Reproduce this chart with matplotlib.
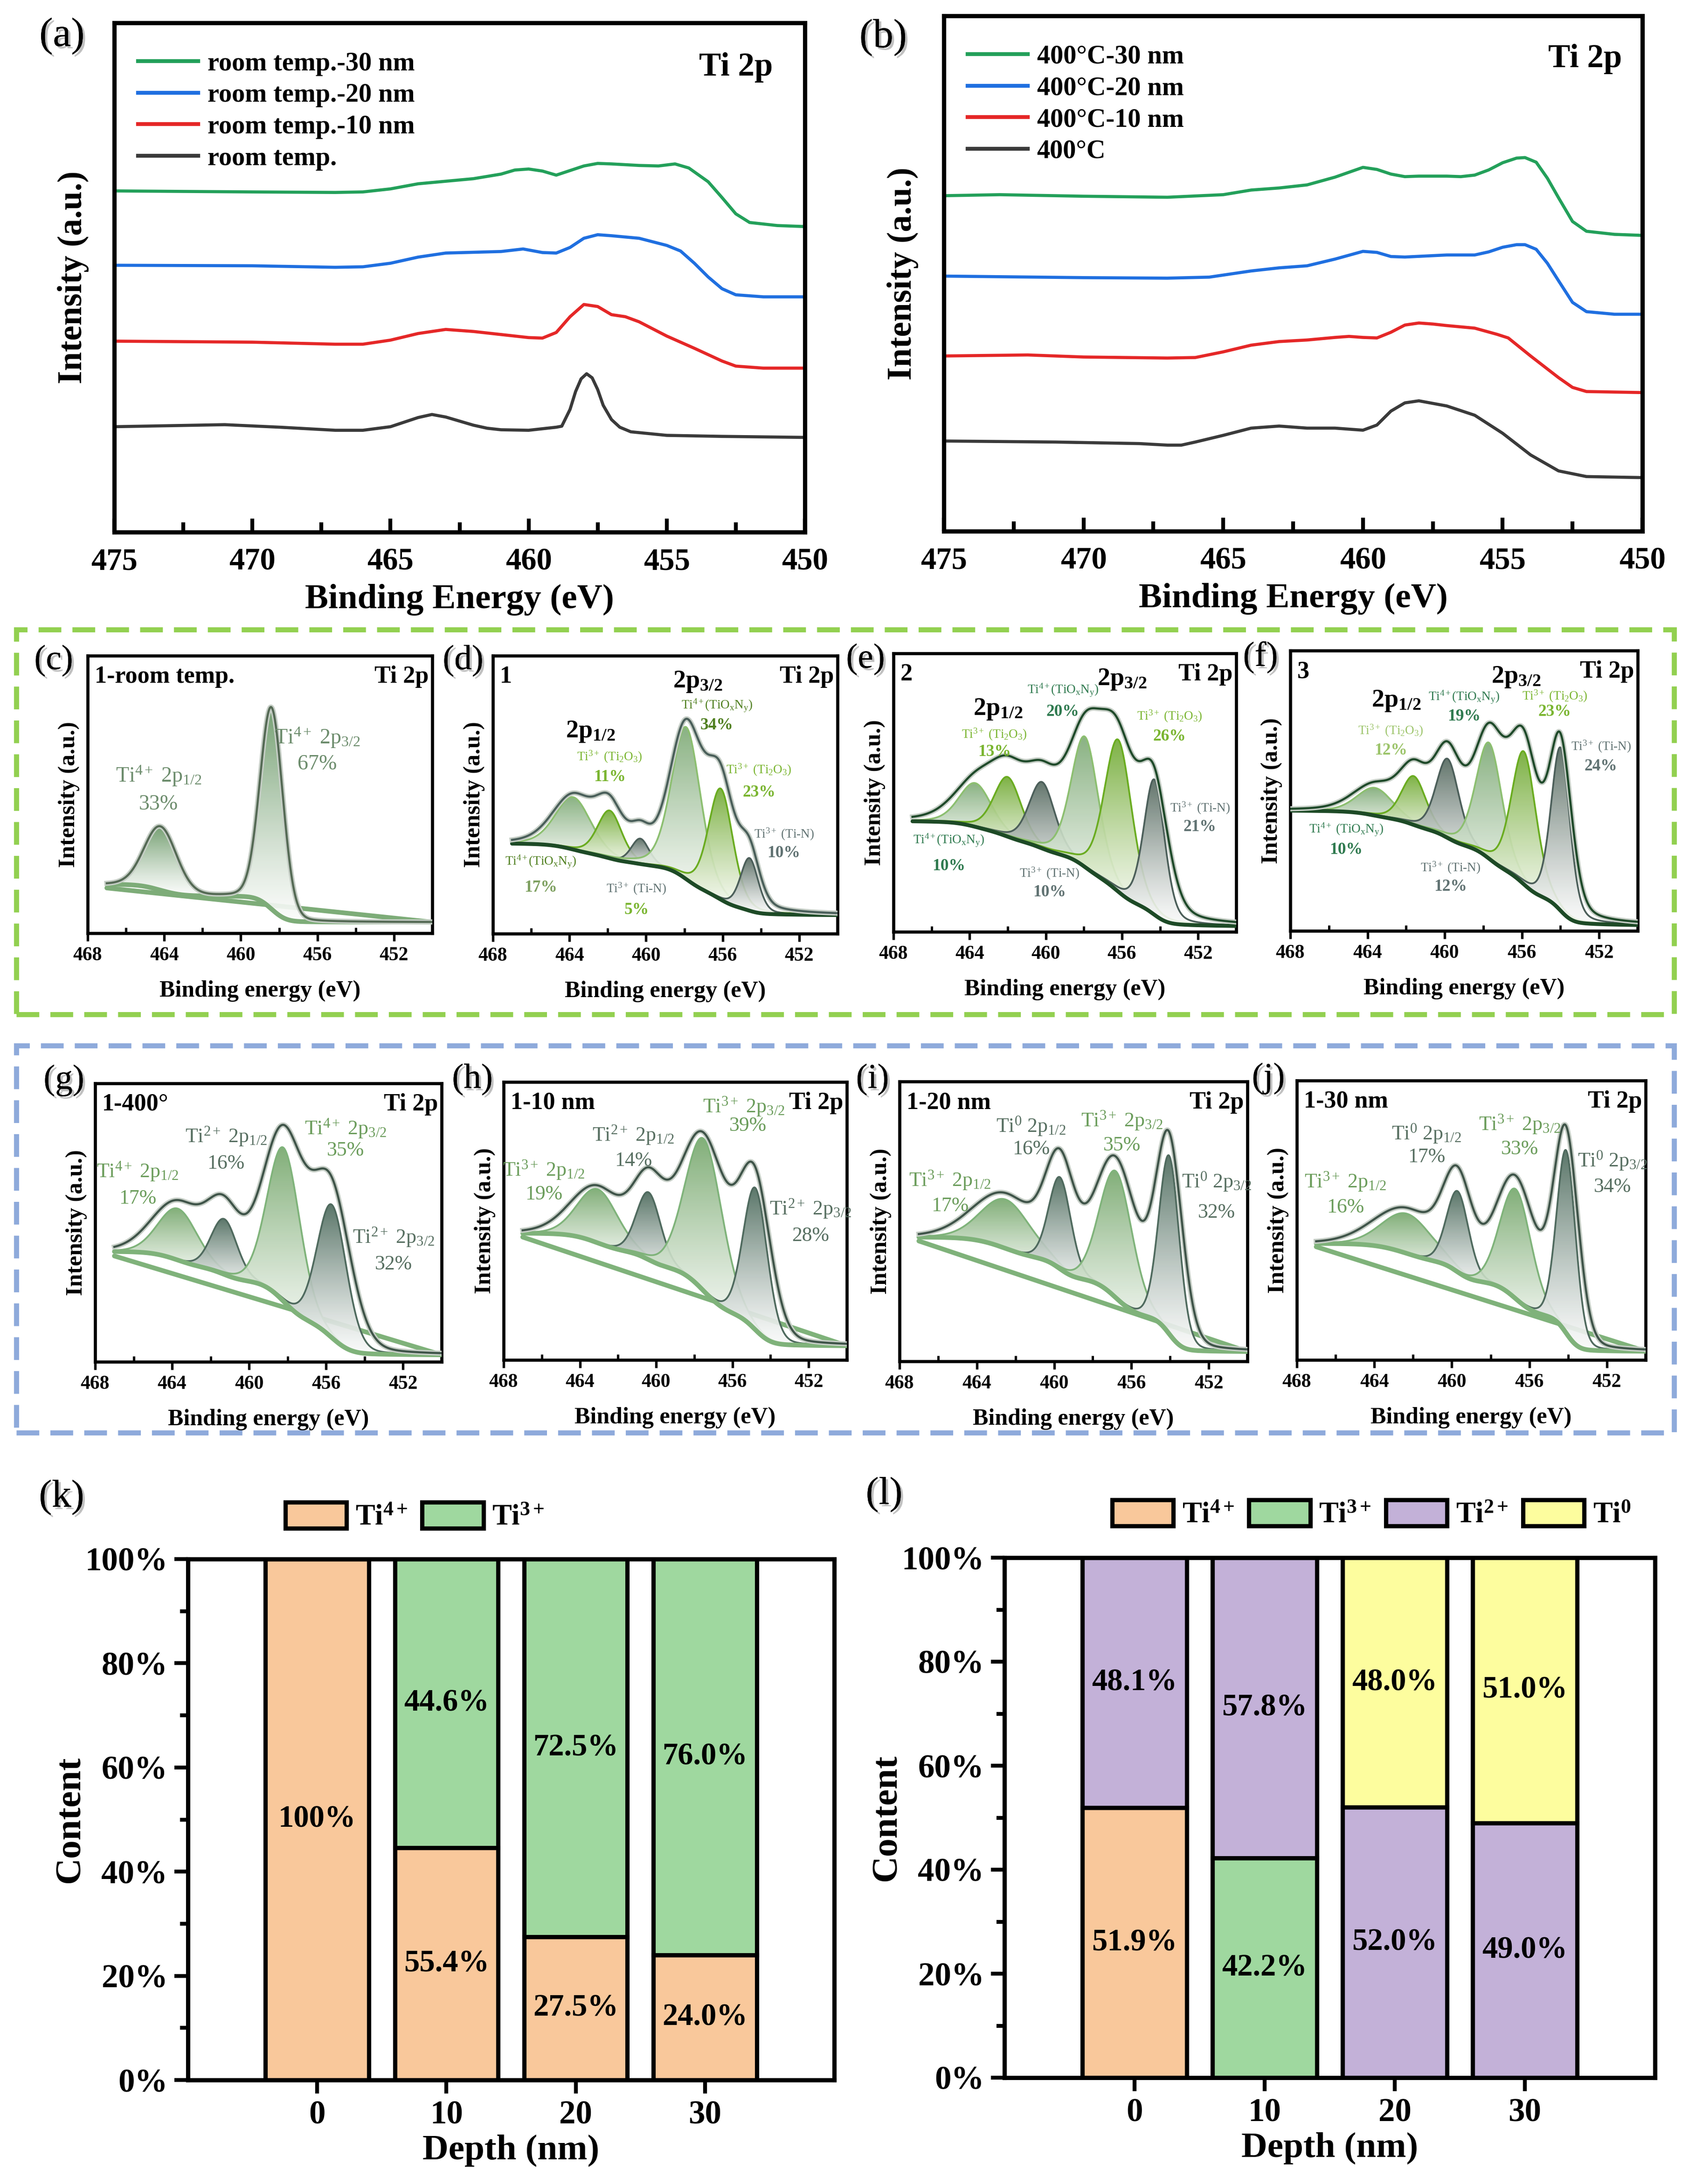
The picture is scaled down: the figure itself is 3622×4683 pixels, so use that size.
import numpy as np
import matplotlib
matplotlib.use("Agg")
import matplotlib.pyplot as plt
import matplotlib.colors as mcolors
import matplotlib.patheffects as pe
from matplotlib.patches import Rectangle, Patch
from matplotlib.ticker import MultipleLocator, FixedLocator

plt.rcParams['font.family'] = ['Liberation Serif', 'DejaVu Serif']
plt.rcParams['mathtext.fontset'] = 'custom'
plt.rcParams['mathtext.rm'] = 'Liberation Serif'
plt.rcParams['mathtext.it'] = 'Liberation Serif:italic'
plt.rcParams['mathtext.bf'] = 'Liberation Serif:bold'
plt.rcParams['mathtext.default'] = 'regular'

W, H = 3622, 4683

# ---------------- data: survey spectra (a) room temp ----------------
A30_E = [475, 470, 467, 466, 465, 464, 463, 462, 461, 460.5, 460, 459.5, 459, 458.5, 458, 457.5, 457, 456, 455.3, 454.7, 454.2, 453.5, 453, 452.5, 452, 451, 450]
A30_I = [67.0, 66.8, 66.7, 66.8, 67.4, 68.4, 68.9, 69.4, 70.3, 71.1, 71.3, 70.9, 70.1, 71.0, 71.9, 72.4, 72.3, 72.0, 71.9, 72.3, 71.5, 68.8, 65.7, 62.5, 60.8, 60.2, 60.0]
A20_E = [475, 470, 467, 466, 465, 464, 463, 461, 460.2, 459.5, 459, 458.5, 458, 457.5, 457, 456, 455, 454.5, 454, 453.5, 453, 452.5, 451.5, 450]
A20_I = [52.4, 52.3, 52.0, 52.1, 52.8, 54.0, 54.8, 55.1, 55.6, 54.9, 54.8, 55.9, 57.7, 58.4, 58.2, 57.7, 56.3, 55.2, 52.8, 50.1, 47.8, 46.6, 46.2, 46.2]
A10_E = [475, 470, 467, 466, 465, 464, 463, 462, 461, 460, 459.5, 459, 458.5, 458, 457.5, 457, 456.5, 456, 455, 454, 453, 452.5, 451.5, 450]
A10_I = [37.5, 37.3, 36.9, 36.9, 37.7, 39.0, 39.8, 39.4, 38.8, 38.2, 38.1, 39.2, 42.3, 44.7, 44.3, 42.7, 42.3, 41.3, 38.5, 36.1, 33.6, 32.6, 32.2, 32.2]
A0_E = [475, 471, 469, 467, 466, 465, 464.5, 464, 463.5, 463, 462.5, 462, 461.5, 461, 460, 459, 458.8, 458.5, 458.3, 458.1, 457.9, 457.7, 457.5, 457.3, 457.0, 456.7, 456.3, 455, 453, 450]
A0_I = [20.7, 21.1, 20.6, 20.0, 20.0, 20.7, 21.6, 22.5, 23.1, 22.6, 21.8, 21.0, 20.4, 20.1, 20.0, 20.6, 20.8, 24.1, 27.6, 30.1, 31.1, 30.3, 28.0, 24.9, 22.1, 20.6, 19.7, 19.0, 18.8, 18.6]
A_LABELS = ['room temp.-30 nm', 'room temp.-20 nm', 'room temp.-10 nm', 'room temp.']

# ---------------- data: survey spectra (b) 400 C ----------------
B30_E = [475, 473, 470, 467, 465, 464, 463, 462, 461, 460, 459.5, 459, 458.5, 458, 457, 456.5, 456, 455.5, 455, 454.5, 454.2, 453.8, 453.4, 453, 452.5, 452, 451, 450]
B30_I = [65.1, 65.3, 65.0, 64.8, 65.3, 66.2, 66.6, 67.2, 68.7, 70.6, 70.2, 69.3, 68.8, 68.9, 68.9, 68.8, 69.1, 70.1, 71.5, 72.4, 72.5, 71.6, 68.5, 64.7, 60.1, 58.2, 57.6, 57.4]
B20_E = [475, 470, 467, 465.5, 465, 464, 463, 462, 461, 460, 459.5, 459, 458.5, 457, 456, 455.5, 455, 454.5, 454.2, 453.8, 453.4, 453, 452.5, 452, 451, 450]
B20_I = [49.5, 49.2, 49.1, 49.3, 49.7, 50.5, 51.1, 51.5, 52.8, 54.3, 54.1, 53.3, 53.2, 53.6, 53.6, 54.2, 55.1, 55.6, 55.6, 54.7, 52.0, 48.6, 44.4, 42.6, 42.1, 42.1]
B10_E = [475, 472, 470, 467, 466, 465, 464, 463, 462, 461, 460.5, 460, 459.5, 459, 458.5, 458, 457.5, 457, 456, 455.2, 454.8, 454, 453, 452.5, 452, 450]
B10_I = [34.0, 34.2, 33.8, 33.6, 33.7, 34.8, 36.1, 36.8, 37.1, 37.6, 37.8, 37.6, 37.5, 38.6, 40.0, 40.4, 40.2, 39.9, 39.4, 38.2, 37.5, 34.0, 29.8, 27.9, 27.1, 26.9]
B0_E = [475, 471, 468, 467, 466.5, 466, 465, 464, 463, 462, 461, 460, 459.5, 459, 458.5, 458, 457.5, 457, 456, 455, 454, 453, 452, 450]
B0_I = [17.5, 17.3, 17.0, 16.7, 16.7, 17.3, 18.6, 20.0, 20.4, 20.0, 20.0, 19.6, 20.6, 23.3, 24.9, 25.3, 24.8, 24.3, 22.5, 19.0, 14.8, 11.7, 10.6, 10.4]
B_LABELS = ['400\u00b0C-30 nm', '400\u00b0C-20 nm', '400\u00b0C-10 nm', '400\u00b0C']

# ---------------- data: peak fits (c)-(j) ----------------
# centre (eV), component top (a.u.), FWHM (eV), component type; envelope maximum
C_CEN = [464.2, 458.4]
C_TOP = [38.2, 80.7]
C_FWHM = [2.0, 1.4]
C_KIND = ['mid', 'mid']
C_BG = (4.0, 17.6, 16.3)   # low end, high end, linear-line high end
C_ENV = 81.5

D_CEN = [463.8, 461.9, 460.3, 457.9, 456.1, 454.6]
D_TOP = [49.1, 44.3, 34.2, 74.3, 52.2, 27.2]
D_FWHM = [2.2, 1.5, 1.1, 1.8, 1.5, 1.1]
D_KIND = ['mid', 'bright', 'slate', 'mid', 'bright', 'slate']
D_BG = (6.7, 32.4)
D_ENV = 77.3

E_CEN = [463.7, 462.0, 460.2, 457.95, 456.2, 454.3]
E_TOP = [53.4, 55.6, 53.8, 70.1, 69.0, 54.7]
E_FWHM = [2.0, 1.7, 1.6, 1.7, 1.7, 1.3]
E_KIND = ['mid', 'bright', 'slate', 'mid', 'bright', 'slate']
E_BG = (2.1, 39.7)
E_ENV = 80.0

F_CEN = [463.6, 461.6, 459.85, 457.7, 455.9, 454.0]
F_TOP = [51.0, 55.2, 61.4, 67.1, 64.0, 65.4]
F_FWHM = [2.2, 1.5, 1.4, 1.6, 1.5, 1.15]
F_KIND = ['mid', 'bright', 'slate', 'mid', 'bright', 'slate']
F_BG = (2.1, 42.9)
F_ENV = 74.3

G_CEN = [463.7, 461.3, 458.2, 455.7]
G_TOP = [55.0, 51.3, 76.8, 56.4]
G_FWHM = [2.4, 1.6, 2.0, 1.8]
G_KIND = ['mid', 'slate', 'mid', 'slate']
G_BG = (2.5, 39.6, 38.0)
G_ENV = 85.1

H_CEN = [463.06, 460.4, 457.5, 454.8]
H_TOP = [61.4, 60.3, 79.5, 61.9]
H_FWHM = [2.5, 1.5, 2.3, 1.5]
H_KIND = ['mid', 'slate', 'mid', 'slate']
H_BG = (5.1, 45.6, 44.2)
H_ENV = 82.3

I_CEN = [462.5, 459.7, 456.8, 454.05]
I_TOP = [57.8, 65.8, 67.9, 73.5]
I_FWHM = [3.0, 1.35, 2.0, 1.25]
I_KIND = ['mid', 'slate', 'mid', 'slate']
I_BG = (3.5, 44.4, 43.0)
I_ENV = 82.7

J_CEN = [462.3, 459.7, 456.7, 454.1]
J_TOP = [52.3, 60.4, 61.1, 75.0]
J_FWHM = [3.0, 1.35, 1.9, 1.15]
J_KIND = ['mid', 'slate', 'mid', 'slate']
J_BG = (3.1, 41.7, 40.5)
J_ENV = 84.3

# ---------------- data: bar charts (k), (l) ----------------
DEPTH = [0, 10, 20, 30]
DEPTH_LABELS = ['0', '10', '20', '30']
# segment heights as drawn, and the printed labels
K_TI4 = [100.0, 44.6, 27.5, 24.0]
K_TI3 = [0.0, 55.4, 72.5, 76.0]
K_TI4_TXT = ['100%', '55.4%', '27.5%', '24.0%']
K_TI3_TXT = ['', '44.6%', '72.5%', '76.0%']
L_TI4 = [51.9, 0.0, 0.0, 0.0]
L_TI3 = [0.0, 42.2, 0.0, 0.0]
L_TI2 = [48.1, 57.8, 52.0, 49.0]
L_TI0 = [0.0, 0.0, 48.0, 51.0]
Y_TICKS = [0, 20, 40, 60, 80, 100]
Y_TICK_LABELS = ['0%', '20%', '40%', '60%', '80%', '100%']

# ---------------- helpers ----------------
fig = plt.figure(figsize=(W / 300, H / 300), dpi=300)


def add_ax(L, R, T, B):
    return fig.add_axes([L / W, 1 - B / H, (R - L) / W, (B - T) / H])


shadow = [pe.withSimplePatchShadow(offset=(1.2, -1.2), shadow_rgbFace='#999999', alpha=0.6), pe.Normal()]


def panel_label(x, y, s, size=20):
    fig.text(x / W, 1 - y / H, s, ha='center', va='center', fontsize=size, path_effects=shadow)


def grad_fill(ax, x, base, top, color, z, alpha=0.92):
    mask = (top - base) > 0.25
    if mask.sum() < 3:
        return
    xs, b, t = x[mask], base[mask], top[mask]
    poly = ax.fill_between(xs, b, t, facecolor='none', edgecolor='none', zorder=z)
    ymin, ymax = b.min(), t.max()
    n = 256
    frac = np.linspace(0, 1, n)[:, None]
    g = 0.03 + 0.97 * frac ** 1.2
    c = np.array(mcolors.to_rgb(color))[None, :]
    rgb = (1 - g) * np.ones((1, 3)) + g * c
    im = ax.imshow(rgb[:, None, :], extent=[xs.min(), xs.max(), ymin, ymax], origin='lower',
                   aspect='auto', zorder=z, alpha=alpha, interpolation='bilinear')
    im.set_clip_path(poly.get_paths()[0], ax.transData)


def survey_axes(ax):
    ax.set_xlim(475, 450)
    ax.set_ylim(0, 100)
    ax.set_yticks([])
    ax.xaxis.set_major_locator(FixedLocator([475, 470, 465, 460, 455, 450]))
    ax.xaxis.set_minor_locator(MultipleLocator(2.5))
    ax.tick_params(axis='x', which='major', direction='in', length=7, width=2, labelsize=16, pad=8)
    ax.tick_params(axis='x', which='minor', direction='in', length=5, width=2)
    for lab in ax.get_xticklabels():
        lab.set_fontweight('bold')
    for s in ax.spines.values():
        s.set_linewidth(2.2)
    ax.set_xlabel('Binding Energy (eV)', fontsize=18, fontweight='bold', labelpad=4)
    ax.set_ylabel('Intensity (a.u.)', fontsize=17.5, fontweight='bold', labelpad=13)
    ax.text(0.9, 0.913, 'Ti 2p', transform=ax.transAxes, ha='center', va='center', fontsize=17, fontweight='bold')


SURVEY_COLORS = ['#23a05a', '#1f6fe0', '#e52727', '#3a3a3a']


def survey(ax, curves, labels):
    for (e, i), lab, col in zip(curves, labels, SURVEY_COLORS):
        ax.plot(e, i, color=col, lw=1.6, label=lab)
    survey_axes(ax)
    leg = ax.legend(loc='upper left', bbox_to_anchor=(0.0, 0.99), frameon=False, handlelength=2.3,
                    handletextpad=0.35, labelspacing=0.28, prop={'weight': 'bold', 'size': 13.5})
    for ln in leg.get_lines():
        ln.set_linewidth(2)


def pvoigt(x, c, h, f, eta):
    u = ((x - c) / f) ** 2
    return h * ((1 - eta) * np.exp(-4 * np.log(2) * u) + eta / (1 + 4 * u))


def fit_panel(ax, cen, top, fw, kinds, lo, hi, env_max, palette, edge, env_col, bg_col, bg_lw,
              lin_hi=None, x0=467.0, eta=0.15, env_broad=1.3):
    x = np.linspace(450, x0, 1500)
    cen = np.asarray(cen, float)
    top = np.asarray(top, float)
    fw = np.asarray(fw, float)
    h = top - (lo + (hi - lo) * (cen - 450) / (x0 - 450))
    for _ in range(10):
        comps = [pvoigt(x, c, hh, f, eta) for c, hh, f in zip(cen, h, fw)]
        tot = np.sum(comps, axis=0)
        cum = np.concatenate([[0], np.cumsum(0.5 * (tot[1:] + tot[:-1]) * np.diff(x))])
        bg = lo + (hi - lo) * cum / cum[-1]
        h = np.maximum(top - np.interp(cen, x, bg), 0.5)
    if lin_hi is not None:
        ax.plot([450, x0], [lo, lin_hi], color=bg_col, lw=bg_lw, zorder=3, solid_capstyle='round')
    for k, (comp, kind) in enumerate(zip(comps, kinds)):
        grad_fill(ax, x, bg, bg + comp, palette[kind], 4 + k * 0.1)
        m = comp > 0.25
        ax.plot(x[m], (bg + comp)[m], color=edge[kind], lw=0.9, zorder=4.05 + k * 0.1)
    ax.plot(x, bg, color=bg_col, lw=bg_lw, zorder=5, solid_capstyle='round')
    env_tot = np.sum([pvoigt(x, c, hh, f * env_broad, eta) for c, hh, f in zip(cen, h, fw)], axis=0)
    i = np.argmax(bg + env_tot)
    s = (env_max - bg[i]) / env_tot[i]
    env = bg + s * env_tot
    ax.plot(x, env, color='#c6cec6', lw=2.6, zorder=6)
    ax.plot(x, env, color=env_col, lw=1.1, zorder=7)
    ax.set_xlim(468, 450)
    ax.set_ylim(0, 100)
    ax.set_yticks([])
    ax.xaxis.set_major_locator(FixedLocator([468, 464, 460, 456, 452]))
    ax.xaxis.set_minor_locator(MultipleLocator(2))
    ax.tick_params(axis='x', which='major', direction='out', length=4, width=1.3, labelsize=10, pad=3)
    ax.tick_params(axis='x', which='minor', direction='in', length=3, width=1.2)
    for lab in ax.get_xticklabels():
        lab.set_fontweight('bold')
    for sp in ax.spines.values():
        sp.set_linewidth(1.6)
    ax.set_xlabel('Binding energy (eV)', fontsize=12, fontweight='bold', labelpad=8)
    ax.set_ylabel('Intensity (a.u.)', fontsize=12, fontweight='bold', labelpad=4)


def corner_text(ax, left, right='Ti 2p'):
    ax.text(0.02, 0.925, left, transform=ax.transAxes, ha='left', va='center', fontsize=12.5, fontweight='bold')
    ax.text(0.99, 0.925, right, transform=ax.transAxes, ha='right', va='center', fontsize=12.5, fontweight='bold')


def notes(ax, items):
    for s, x, y, col, size, wt in items:
        ax.text(x, y, s, ha='center', va='center', color=col, fontsize=size, fontweight=wt, zorder=10)


# ---------------- (a), (b) ----------------
axa = add_ax(245, 1726, 49, 1141)
survey(axa, [(A30_E, A30_I), (A20_E, A20_I), (A10_E, A10_I), (A0_E, A0_I)], A_LABELS)
axb = add_ax(2024, 3522, 34, 1139)
survey(axb, [(B30_E, B30_I), (B20_E, B20_I), (B10_E, B10_I), (B0_E, B0_I)], B_LABELS)
axb.texts[0].set_position((0.918, 0.916))
panel_label(133, 77, '(a)', 21)
panel_label(1894, 80, '(b)', 21)

# ---------------- dashed boxes ----------------
fig.add_artist(Rectangle((35 / W, 1 - 2175 / H), (3590 - 35) / W, (2175 - 1350) / H, transform=fig.transFigure,
                         fill=False, ls=(0, (4.5, 2.2)), lw=2.6, edgecolor='#92d050'))
fig.add_artist(Rectangle((35 / W, 1 - 3072 / H), (3590 - 35) / W, (3072 - 2242) / H, transform=fig.transFigure,
                         fill=False, ls=(0, (4.5, 2.2)), lw=2.6, edgecolor='#8eaadb'))

# palettes
PAL_C = {'mid': '#6c9a69'}
EDGE_C = {'mid': '#86b482'}
PAL_D = {'mid': '#7fab77', 'bright': '#72ab34', 'slate': '#55695f'}
EDGE_D = {'mid': '#8cbf70', 'bright': '#6aac20', 'slate': '#4c5f5a'}
PAL_G = {'mid': '#77a86d', 'slate': '#4c6a5c'}
EDGE_G = {'mid': '#7fb37a', 'slate': '#4f6a5e'}

G_LAB = '#6a9c5a'
S_LAB = '#566e60'
OX = '#4f7f1f'
BR = '#7ab530'
TN = '#607272'

# (c)
axc = add_ax(188, 927, 1406, 2001)
fit_panel(axc, C_CEN, C_TOP, C_FWHM, C_KIND, C_BG[0], C_BG[1], C_ENV, PAL_C, EDGE_C, '#556a55', '#7dac78', 2.4,
          lin_hi=C_BG[2], eta=0.1, env_broad=1.0)
corner_text(axc, '1-room temp.')
notes(axc, [(r'Ti$^{4+}$ 2p$_{1/2}$', 464.3, 56.7, '#6c8c6c', 11, 'normal'), ('33%', 464.3, 46.4, '#6c8c6c', 11, 'normal'),
            (r'Ti$^{4+}$ 2p$_{3/2}$', 456.0, 70.4, '#6c8c6c', 11, 'normal'), ('67%', 456.0, 60.9, '#6c8c6c', 11, 'normal')])
panel_label(115, 1417, '(c)', 18)

# (d)
axd = add_ax(1057, 1796, 1406, 2002)
fit_panel(axd, D_CEN, D_TOP, D_FWHM, D_KIND, D_BG[0], D_BG[1], D_ENV, PAL_D, EDGE_D, '#4a5f5a', '#1d4a26', 2.0,
          eta=0.3, env_broad=1.15)
corner_text(axd, '1')
notes(axd, [(r'2p$_{3/2}$', 457.3, 90.6, 'black', 13, 'bold'), (r'2p$_{1/2}$', 462.9, 72.6, 'black', 13, 'bold'),
            (r'Ti$^{4+}$(TiO$_x$N$_y$)', 456.3, 82.0, OX, 6.5, 'normal'), ('34%', 456.3, 75.0, OX, 8.5, 'bold'),
            (r'Ti$^{3+}$ (Ti$_2$O$_3$)', 461.9, 63.6, BR, 6.5, 'normal'), ('11%', 461.9, 56.3, BR, 8.5, 'bold'),
            (r'Ti$^{3+}$ (Ti$_2$O$_3$)', 454.1, 58.9, BR, 6.5, 'normal'), ('23%', 454.1, 50.8, BR, 8.5, 'bold'),
            (r'Ti$^{3+}$ (Ti-N)', 452.8, 35.8, TN, 6.5, 'normal'), ('10%', 452.8, 28.9, TN, 8.5, 'bold'),
            (r'Ti$^{4+}$(TiO$_x$N$_y$)', 465.5, 25.9, OX, 6.5, 'normal'), ('17%', 465.5, 16.5, '#7ea060', 8.5, 'bold'),
            (r'Ti$^{3+}$ (Ti-N)', 460.5, 16.1, TN, 6.5, 'normal'), ('5%', 460.5, 8.4, BR, 8.5, 'bold')])
panel_label(993, 1417, '(d)', 18)

# (e)
axe = add_ax(1916, 2651, 1401, 1998)
fit_panel(axe, E_CEN, E_TOP, E_FWHM, E_KIND, E_BG[0], E_BG[1], E_ENV, PAL_D, EDGE_D, '#1f4a2a', '#1d4a26', 2.0,
          eta=0.3, env_broad=1.35)
corner_text(axe, '2')
OX2 = '#2f7a4f'
notes(axe, [(r'2p$_{3/2}$', 456.0, 90.6, 'black', 13, 'bold'), (r'2p$_{1/2}$', 462.5, 79.9, 'black', 13, 'bold'),
            (r'Ti$^{4+}$(TiO$_x$N$_y$)', 459.1, 86.8, OX2, 6.5, 'normal'), ('20%', 459.1, 79.0, OX2, 8.5, 'bold'),
            (r'Ti$^{3+}$ (Ti$_2$O$_3$)', 462.7, 70.9, BR, 6.5, 'normal'), ('13%', 462.7, 64.5, BR, 8.5, 'bold'),
            (r'Ti$^{3+}$ (Ti$_2$O$_3$)', 453.5, 77.4, BR, 6.5, 'normal'), ('26%', 453.5, 70.1, BR, 8.5, 'bold'),
            (r'Ti$^{3+}$ (Ti-N)', 451.9, 44.4, TN, 6.5, 'normal'), ('21%', 451.9, 37.6, TN, 8.5, 'bold'),
            (r'Ti$^{4+}$(TiO$_x$N$_y$)', 465.1, 32.9, OX2, 6.5, 'normal'), ('10%', 465.1, 23.5, OX2, 8.5, 'bold'),
            (r'Ti$^{3+}$ (Ti-N)', 459.8, 20.9, TN, 6.5, 'normal'), ('10%', 459.8, 14.1, TN, 8.5, 'bold')])
panel_label(1856, 1414, '(e)', 18)

# (f)
axf = add_ax(2767, 3512, 1395, 1996)
fit_panel(axf, F_CEN, F_TOP, F_FWHM, F_KIND, F_BG[0], F_BG[1], F_ENV, PAL_D, EDGE_D, '#1f4a2a', '#1d4a26', 2.0,
          x0=468.0, eta=0.3, env_broad=1.2)
corner_text(axf, '3')
LB = '#9cc46a'
notes(axf, [(r'2p$_{3/2}$', 456.3, 90.5, 'black', 13, 'bold'), (r'2p$_{1/2}$', 462.5, 82.0, 'black', 13, 'bold'),
            (r'Ti$^{4+}$(TiO$_x$N$_y$)', 459.0, 83.3, OX2, 6.5, 'normal'), ('19%', 459.0, 76.5, OX2, 8.5, 'bold'),
            (r'Ti$^{3+}$ (Ti$_2$O$_3$)', 454.3, 83.7, BR, 6.5, 'normal'), ('23%', 454.3, 78.2, BR, 8.5, 'bold'),
            (r'Ti$^{3+}$ (Ti$_2$O$_3$)', 462.8, 71.4, LB, 6.5, 'normal'), ('12%', 462.8, 64.3, LB, 8.5, 'bold'),
            (r'Ti$^{3+}$ (Ti-N)', 451.9, 65.8, TN, 6.5, 'normal'), ('24%', 451.9, 58.6, TN, 8.5, 'bold'),
            (r'Ti$^{4+}$ (TiO$_x$N$_y$)', 465.1, 36.1, OX2, 6.5, 'normal'), ('10%', 465.1, 28.9, OX2, 8.5, 'bold'),
            (r'Ti$^{3+}$ (Ti-N)', 459.7, 22.5, TN, 6.5, 'normal'), ('12%', 459.7, 15.7, TN, 8.5, 'bold')])
panel_label(2703, 1410, '(f)', 18)

# (g)-(j)
fit_specs = [
    ((204, 947, 2323, 2920), G_CEN, G_TOP, G_FWHM, G_KIND, G_BG, G_ENV, '1-400\u00b0', (137, 2317, '(g)'),
     [(r'Ti$^{4+}$ 2p$_{1/2}$', 465.8, 68.4, G_LAB), ('17%', 465.8, 58.7, G_LAB),
      (r'Ti$^{2+}$ 2p$_{1/2}$', 461.2, 81.0, S_LAB), ('16%', 461.2, 71.2, S_LAB),
      (r'Ti$^{4+}$ 2p$_{3/2}$', 455.0, 83.8, G_LAB), ('35%', 455.0, 75.9, G_LAB),
      (r'Ti$^{2+}$ 2p$_{3/2}$', 452.5, 44.8, S_LAB), ('32%', 452.5, 35.0, S_LAB)]),
    ((1080, 1816, 2320, 2916), H_CEN, H_TOP, H_FWHM, H_KIND, H_BG, H_ENV, '1-10 nm', (1013, 2315, '(h)'),
     [(r'Ti$^{3+}$ 2p$_{3/2}$', 455.4, 91.2, G_LAB), ('39%', 455.2, 84.2, G_LAB),
      (r'Ti$^{2+}$ 2p$_{1/2}$', 461.2, 80.9, S_LAB), ('14%', 461.2, 71.6, S_LAB),
      (r'Ti$^{3+}$ 2p$_{1/2}$', 465.9, 68.4, G_LAB), ('19%', 465.9, 59.5, G_LAB),
      (r'Ti$^{2+}$ 2p$_{3/2}$', 451.9, 54.4, S_LAB), ('28%', 451.9, 44.7, S_LAB)]),
    ((1929, 2675, 2319, 2919), I_CEN, I_TOP, I_FWHM, I_KIND, I_BG, I_ENV, '1-20 nm', (1871, 2315, '(i)'),
     [(r'Ti$^{0}$ 2p$_{1/2}$', 461.2, 84.1, S_LAB), ('16%', 461.2, 75.8, S_LAB),
      (r'Ti$^{3+}$ 2p$_{3/2}$', 456.5, 86.0, G_LAB), ('35%', 456.5, 77.2, G_LAB),
      (r'Ti$^{3+}$ 2p$_{1/2}$', 465.4, 64.7, G_LAB), ('17%', 465.4, 55.5, G_LAB),
      (r'Ti$^{0}$ 2p$_{3/2}$', 451.6, 64.2, S_LAB), ('32%', 451.6, 53.1, S_LAB)]),
    ((2781, 3529, 2317, 2916), J_CEN, J_TOP, J_FWHM, J_KIND, J_BG, J_ENV, '1-30 nm', (2720, 2313, '(j)'),
     [(r'Ti$^{0}$ 2p$_{1/2}$', 461.3, 81.0, S_LAB), ('17%', 461.3, 72.7, S_LAB),
      (r'Ti$^{3+}$ 2p$_{3/2}$', 456.5, 84.3, G_LAB), ('33%', 456.5, 75.5, G_LAB),
      (r'Ti$^{3+}$ 2p$_{1/2}$', 465.5, 63.9, G_LAB), ('16%', 465.5, 54.6, G_LAB),
      (r'Ti$^{0}$ 2p$_{3/2}$', 451.7, 71.3, S_LAB), ('34%', 451.7, 62.0, S_LAB)]),
]
for box, cen, top, fw, kind, bgp, envm, left, plab, ann in fit_specs:
    ax = add_ax(*box)
    fit_panel(ax, cen, top, fw, kind, bgp[0], bgp[1], envm, PAL_G, EDGE_G, '#3f5449', '#7fb27a', 2.4,
              lin_hi=bgp[2], eta=0.15, env_broad=1.3)
    corner_text(ax, left)
    notes(ax, [(s, x, y, c, 10.5, 'normal') for s, x, y, c in ann])
    panel_label(plab[0], plab[1], plab[2], 18)

# ---------------- (k), (l) bar charts ----------------
COL4 = '#f9c89b'
COL3 = '#9fd89f'
COL2 = '#c3b1d8'
COL0 = '#fdfd9e'
BAR_W = 8


def bar_axes(ax):
    ax.set_xlim(-10, 40)
    ax.set_ylim(0, 100)
    ax.set_xticks(DEPTH)
    ax.set_xticklabels(DEPTH_LABELS)
    ax.set_yticks(Y_TICKS)
    ax.set_yticklabels(Y_TICK_LABELS)
    ax.yaxis.set_minor_locator(MultipleLocator(10))
    ax.tick_params(axis='both', which='major', direction='out', length=7, width=2, labelsize=17)
    ax.tick_params(axis='y', which='minor', direction='out', length=4, width=2)
    for lab in ax.get_xticklabels() + ax.get_yticklabels():
        lab.set_fontweight('bold')
    for s in ax.spines.values():
        s.set_linewidth(2.2)
    ax.set_xlabel('Depth (nm)', fontsize=18.5, fontweight='bold', labelpad=2)
    ax.set_ylabel('Content', fontsize=19, fontweight='bold', labelpad=-1)


def stacked(ax, series, texts, colors):
    bottom = np.zeros(len(DEPTH))
    for vals, txt, col in zip(series, texts, colors):
        vals = np.asarray(vals)
        ax.bar(DEPTH, vals, BAR_W, bottom=bottom, color=col, edgecolor='black', linewidth=2.2)
        for xd, v, b, s in zip(DEPTH, vals, bottom, txt):
            if v > 0:
                ax.text(xd, b + v / 2, s, ha='center', va='center', fontsize=16, fontweight='bold')
        bottom = bottom + vals
    return [Patch(facecolor=c, edgecolor='black', linewidth=2.2) for c in colors]


def pct(vals):
    return ['100%' if v == 100 else f'{v:.1f}%' for v in vals]


axk = add_ax(403, 1789, 3343, 4460)
hk = stacked(axk, [K_TI4, K_TI3], [K_TI4_TXT, K_TI3_TXT], [COL4, COL3])
bar_axes(axk)
axk.legend(hk, [r'Ti$^{4+}$', r'Ti$^{3+}$'], loc='center left', bbox_to_anchor=(0.11, 1.081), ncol=2,
           frameon=False, handlelength=2.1, handleheight=1.0, handletextpad=0.3, columnspacing=0.5,
           prop={'weight': 'bold', 'size': 15})
panel_label(132, 3211, '(k)', 20)

axl = add_ax(2154, 3549, 3340, 4455)
hl = stacked(axl, [L_TI4, L_TI3, L_TI2, L_TI0], [pct(L_TI4), pct(L_TI3), pct(L_TI2), pct(L_TI0)],
             [COL4, COL3, COL2, COL0])
bar_axes(axl)
axl.legend(hl, [r'Ti$^{4+}$', r'Ti$^{3+}$', r'Ti$^{2+}$', r'Ti$^{0}$'], loc='center left',
           bbox_to_anchor=(0.125, 1.083), ncol=4, frameon=False, handlelength=2.1, handleheight=1.0,
           handletextpad=0.3, columnspacing=0.5, prop={'weight': 'bold', 'size': 15})
panel_label(1896, 3205, '(l)', 20)

fig.savefig('out.png', dpi=300)
